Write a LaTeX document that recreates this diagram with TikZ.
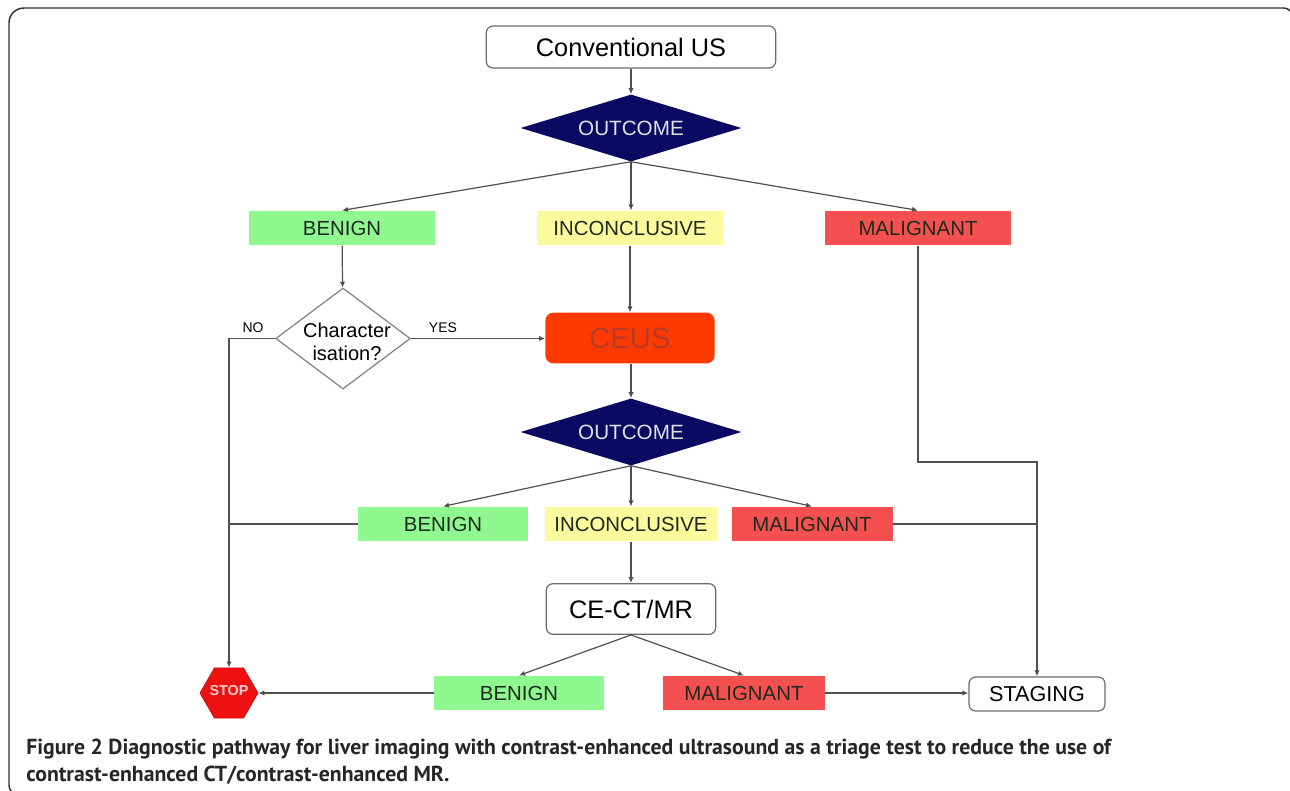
\documentclass[tikz,border=0pt]{standalone}
\usepackage{fontspec}
\setmainfont{Liberation Sans}
\newfontfamily\capfont{PT Sans}
\usetikzlibrary{shapes.geometric,arrows.meta}
\definecolor{framecol}{HTML}{333333}
\definecolor{linecol}{HTML}{505050}
\definecolor{greenbox}{HTML}{90F890}
\definecolor{yellowbox}{HTML}{FBFB9E}
\definecolor{redbox}{HTML}{F45050}
\definecolor{navy}{HTML}{0A0A62}
\definecolor{ceus}{HTML}{FF3A00}
\definecolor{ceustext}{HTML}{B83A28}
\definecolor{stopred}{HTML}{EE1111}
\definecolor{txt}{HTML}{1E2A1E}
\tikzset{
  x=0.75pt,y=-0.75pt,
  conn/.style={draw=linecol,line width=0.9pt,-{Latex[length=4.5pt,width=4pt]}},
  plain/.style={draw=linecol,line width=0.9pt},
  lab/.style={font=\fontsize{15.3pt}{17pt}\selectfont,text=txt,inner sep=0pt,minimum height=0pt},
  colbox/.style={lab,minimum width=#1*0.75pt,minimum height=26pt,draw=none},
  whitebox/.style={draw=gray!85!black,line width=0.9pt,rounded corners=5pt,fill=white,text=black,inner sep=0pt},
  navyd/.style={diamond,aspect=3.28,fill=navy,text=white!88!black,inner sep=0pt,minimum width=165.75pt,minimum height=50.25pt,font=\fontsize{15.5pt}{17pt}\selectfont},
  captext/.style={anchor=base west,font=\capfont\bfseries\fontsize{16.3pt}{18pt}\selectfont,text=black!85,inner sep=0pt},
}
\begin{document}
\begin{tikzpicture}
\useasboundingbox (0,0) rectangle (1290,790);
\fill[white] (0,0) rectangle (1290,790);
\draw[framecol,line width=1.1pt] (12,792) .. controls (10,790) and (9,788) .. (9,785) -- (9,23) arc[start angle=180,end angle=270,radius=15] -- (1284,8) arc[start angle=-90,end angle=-40,radius=8];
\node[whitebox,minimum width=217pt,minimum height=31.5pt,font=\fontsize{19pt}{21pt}\selectfont] (us) at (631,47) {Conventional US};
\node[navyd] (o1) at (631,128) {OUTCOME};
\node[colbox=186,fill=greenbox] (b1) at (342,228) {BENIGN};
\node[colbox=186,fill=yellowbox] (i1) at (630,228) {INCONCLUSIVE};
\node[colbox=186,fill=redbox] (m1) at (918,228) {MALIGNANT};
\node[diamond,draw=gray,line width=0.9pt,fill=white,inner sep=0pt,minimum width=101pt,minimum height=75.75pt] (ch) at (343,338.5) {};
\node[align=center,font=\fontsize{15pt}{17.5pt}\selectfont,text=black,inner sep=0pt] (chtext) at (347,342) {Character\\isation?};
\node[rounded corners=6pt,fill=ceus,minimum width=127pt,minimum height=38pt,font=\fontsize{22pt}{24pt}\selectfont,text=ceustext,inner sep=0pt] (ce) at (630,338) {CEUS};
\node[navyd] (o2) at (631,432) {OUTCOME};
\node[colbox=170,fill=greenbox] (b2) at (443,524) {BENIGN};
\node[colbox=172,fill=yellowbox] (i2) at (631,524) {INCONCLUSIVE};
\node[colbox=161,fill=redbox] (m2) at (812,524) {MALIGNANT};
\node[whitebox,minimum width=127pt,minimum height=38pt,font=\fontsize{19pt}{21pt}\selectfont] (ct) at (631,609) {CE-CT/MR};
\node[colbox=170,fill=greenbox] (b3) at (519,693) {BENIGN};
\node[colbox=162,fill=redbox] (m3) at (744,693) {MALIGNANT};
\node[whitebox,minimum width=102pt,minimum height=25.5pt,font=\fontsize{16.2pt}{18pt}\selectfont] (st) at (1037,694) {STAGING};
\node[regular polygon,regular polygon sides=6,fill=stopred,draw=stopred!75!black,line width=0.5pt,minimum size=43.5pt,inner sep=0pt] (stop) at (229,693) {};
\node[font=\bfseries\fontsize{10.8pt}{12pt}\selectfont,text=white!80!red,inner sep=0pt] (stoptext) at (229,691) {STOP};
\coordinate (j1) at (229,338);
\coordinate (j2) at (229,524);
\coordinate (j3) at (918,462);
\coordinate (j4) at (1037,462);
\coordinate (j5) at (1037,524);
\node[font=\fontsize{10.5pt}{12pt}\selectfont,inner sep=0pt] (no) at (253,328) {NO};
\node[font=\fontsize{10.5pt}{12pt}\selectfont,inner sep=0pt] (yes) at (443,328) {YES};
\draw[conn] (us) -- (o1);
\draw[conn] (o1.south) -- (b1.north);
\draw[conn] (o1.south) -- (o1.south|-i1.north);
\draw[conn] (o1.south) -- (m1.north);
\draw[conn] (b1) -- (ch);
\draw[conn] (i1) -- (ce);
\draw[conn] (ch.east) -- (ch.east-|ce.west);
\draw[plain] (ch.west) -- (ch.west-|j1) -- (j2);
\draw[conn] (j2) -- (stop.north);
\draw[plain] (b2.west) -- (j2);
\draw[conn] (ce.south-|o2.north) -- (o2.north);
\draw[conn] (o2.south) -- (b2.north);
\draw[conn] (o2.south) -- (i2.north);
\draw[conn] (o2.south) -- (m2.north);
\draw[conn] (i2) -- (ct);
\draw[conn] (ct.south) -- (b3.north);
\draw[conn] (ct.south) -- (m3.north);
\draw[conn] (b3.west) -- (b3.west-|stop.east);
\draw[conn] (m3.east) -- (m3.east-|st.west);
\draw[plain] (m1) -- (j3) -- (j4) -- (j5);
\draw[plain] (m2.east) -- (j5);
\draw[conn] (j5) -- (st);
\node[captext] (capa) at (26,754) {Figure 2 Diagnostic pathway for liver imaging with contrast-enhanced ultrasound as a triage test to reduce the use of};
\node[captext] (capb) at (26,781) {contrast-enhanced CT/contrast-enhanced MR.};
\end{tikzpicture}
\end{document}
